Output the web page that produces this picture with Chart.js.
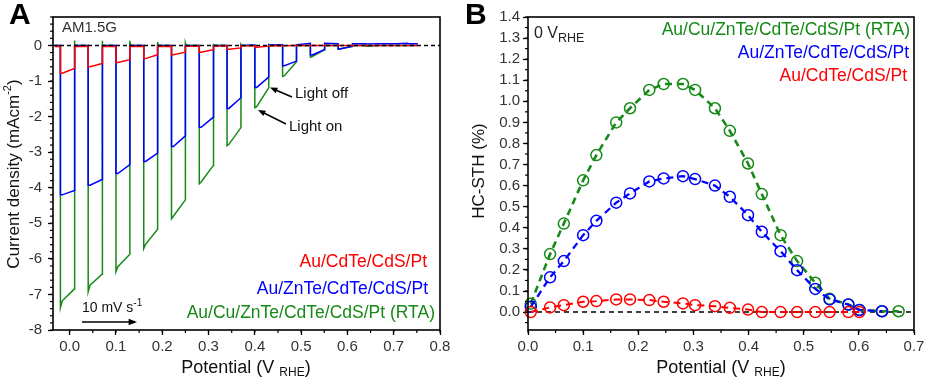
<!DOCTYPE html>
<html>
<head>
<meta charset="utf-8">
<script src="https://cdn.jsdelivr.net/npm/chart.js@4.4.1/dist/chart.umd.min.js"></script>
<style>
  body { margin: 0; background: #fff; }
  #wrap { position: relative; width: 929px; height: 388px; }
  canvas { position: absolute; top: 0; }
  #chartA { left: 0; }
  #chartB { left: 460px; }
</style>
</head>
<body>
<div id="wrap">
  <canvas id="chartA" width="465" height="388"></canvas>
  <canvas id="chartB" width="469" height="388"></canvas>
</div>
<script>
const FONT = "'Liberation Sans', Arial, Helvetica, sans-serif";
const RED = "#ff0000";
const BLUE = "#0000ff";
const GREEN = "#168a16";

// ---- panel A: chopped-light scan, 13 light pulses ----
const scanStart = -0.032;
const scanEnd = 0.752;
const chopOn = [-0.02, 0.04, 0.10, 0.16, 0.22, 0.28, 0.34, 0.40, 0.46, 0.52, 0.58, 0.64, 0.70];
const chopOff = [0.01, 0.07, 0.13, 0.19, 0.25, 0.31, 0.37, 0.43, 0.49, 0.55, 0.61, 0.67, 0.73];

const redDark = [-0.03, -0.03, -0.03, -0.03, -0.02, -0.02, -0.01, -0.01, 0, 0, 0, 0, 0];
const redOn = [-0.78, -0.6, -0.48, -0.37, -0.26, -0.19, -0.11, -0.05, -0.01, 0, 0, 0, 0];
const redEnd = [-0.65, -0.51, -0.4, -0.26, -0.19, -0.12, -0.07, -0.02, 0, 0, 0, 0, 0];

const blueDark = [0, 0, 0, 0, 0, 0, 0, 0.01, 0.02, 0.06, 0.05, 0.05, 0.05];
const blueOn = [-4.2, -3.93, -3.6, -3.26, -2.84, -2.3, -1.77, -1.18, -0.57, -0.27, -0.1, 0.04, 0.05];
const blueEnd = [-4.08, -3.77, -3.35, -3.03, -2.54, -2.02, -1.47, -0.89, -0.44, -0.12, -0.02, 0.05, 0.06];

const greenDark = [0, 0, 0, 0, 0, 0, 0, 0, 0, 0, 0, 0, 0];
const greenPeak = [-7.37, -6.92, -6.36, -5.71, -4.87, -3.89, -2.82, -1.75, -0.87, -0.33, -0.1, -0.02, 0];
const greenOn = [-7.18, -6.74, -6.22, -5.59, -4.8, -3.84, -2.78, -1.72, -0.85, -0.31, -0.09, -0.02, 0];
const greenEnd = [-6.85, -6.43, -5.87, -5.17, -4.34, -3.38, -2.31, -1.19, -0.46, -0.12, -0.03, 0, 0];
const greenOffSpike = [0.14, 0.13, 0.13, 0.1, 0.07, 0.05, 0.03, 0.02, 0.01, 0, 0, 0, 0];

// ---- panel B: HC-STH vs potential ----
const stPotential = [0.005, 0.04, 0.065, 0.1, 0.124, 0.16, 0.185, 0.22, 0.246, 0.281, 0.303, 0.339, 0.366, 0.399, 0.424, 0.458, 0.488, 0.521, 0.547, 0.581, 0.601, 0.642, 0.672];
const stGreen = [0.04, 0.275, 0.42, 0.625, 0.745, 0.9, 0.967, 1.054, 1.082, 1.082, 1.054, 0.967, 0.86, 0.705, 0.56, 0.365, 0.242, 0.139, 0.063, 0.036, 0.01, 0.004, 0.004];
const stBlue = [0.025, 0.165, 0.242, 0.365, 0.433, 0.519, 0.563, 0.62, 0.634, 0.645, 0.631, 0.6, 0.547, 0.46, 0.381, 0.289, 0.199, 0.11, 0.06, 0.036, 0.01, 0.004, null];
const stRed = [0.0, 0.022, 0.033, 0.049, 0.052, 0.06, 0.06, 0.057, 0.049, 0.041, 0.033, 0.028, 0.02, 0.012, 0.0, 0.0, 0.0, 0.0, 0.0, 0.0, 0.0, null, null];

function chopTrace(dark, peak, on, end, spike) {
  const pts = [{x: scanStart, y: dark[0]}];
  chopOn.forEach((t, k) => {
    pts.push({x: t, y: dark[k]});
    pts.push({x: t, y: peak[k]});
    pts.push({x: t + 0.004, y: on[k]});
    pts.push({x: chopOff[k], y: end[k]});
    pts.push({x: chopOff[k], y: spike[k]});
    pts.push({x: chopOff[k] + 0.0015, y: dark[k]});
  });
  pts.push({x: scanEnd, y: dark[dark.length - 1]});
  return pts;
}

function stPoints(vals) {
  return stPotential.map((x, i) => ({x: x, y: vals[i]}));
}

function drawText(c, parts, x, y, align, color, rot) {
  c.save();
  c.translate(x, y);
  if (rot) c.rotate(-Math.PI / 2);
  c.fillStyle = color;
  c.textBaseline = "middle";
  c.textAlign = "left";
  let w = 0;
  for (const p of parts) {
    c.font = (p.bold ? "bold " : "") + p.size + "px " + FONT;
    p.w = c.measureText(p.t).width;
    w += p.w;
  }
  let cx = align === "right" ? -w : align === "center" ? -w / 2 : 0;
  for (const p of parts) {
    c.font = (p.bold ? "bold " : "") + p.size + "px " + FONT;
    c.fillText(p.t, cx, p.dy || 0);
    cx += p.w;
  }
  c.restore();
}

function arrow(c, x0, y0, x1, y1, head) {
  const ang = Math.atan2(y1 - y0, x1 - x0);
  c.save();
  c.strokeStyle = "#000";
  c.fillStyle = "#000";
  c.lineWidth = 1.5;
  c.beginPath();
  c.moveTo(x0, y0);
  c.lineTo(x1 - Math.cos(ang) * head * 0.7, y1 - Math.sin(ang) * head * 0.7);
  c.stroke();
  c.beginPath();
  c.moveTo(x1, y1);
  c.lineTo(x1 - head * Math.cos(ang - 0.38), y1 - head * Math.sin(ang - 0.38));
  c.lineTo(x1 - head * Math.cos(ang + 0.38), y1 - head * Math.sin(ang + 0.38));
  c.closePath();
  c.fill();
  c.restore();
}

function frameAndMinor(chart, xStep, yStep) {
  const c = chart.ctx, a = chart.chartArea;
  c.save();
  c.strokeStyle = "#000";
  c.lineWidth = 1.2;
  const xs = chart.scales.x, ys = chart.scales.y;
  for (let n = Math.ceil(xs.min / xStep - 1e-9); n <= Math.floor(xs.max / xStep + 1e-9); n++) {
    const p = xs.getPixelForValue(n * xStep);
    c.beginPath(); c.moveTo(p, a.bottom); c.lineTo(p, a.bottom + 3); c.stroke();
  }
  for (let n = Math.ceil(ys.min / yStep - 1e-9); n <= Math.floor(ys.max / yStep + 1e-9); n++) {
    const p = ys.getPixelForValue(n * yStep);
    c.beginPath(); c.moveTo(a.left, p); c.lineTo(a.left - 3, p); c.stroke();
  }
  c.lineWidth = 1.6;
  c.strokeRect(a.left, a.top, a.right - a.left, a.bottom - a.top);
  c.restore();
}

function zeroLine(chart, dash) {
  const c = chart.ctx, a = chart.chartArea;
  const y0 = chart.scales.y.getPixelForValue(0);
  c.save();
  c.setLineDash(dash);
  c.lineWidth = 1.5;
  c.strokeStyle = "#000";
  c.beginPath(); c.moveTo(a.left, y0); c.lineTo(a.right, y0); c.stroke();
  c.restore();
}

function axis(min, max, step, pad, fmt, fit) {
  return {
    type: "linear", min: min, max: max,
    afterFit: fit,
    border: {display: false},
    grid: {drawOnChartArea: false, drawTicks: true, tickLength: 5, tickWidth: 1.3, tickColor: "#000"},
    ticks: {
      stepSize: step, includeBounds: false, autoSkip: false, maxRotation: 0,
      padding: pad, color: "#333", font: {family: FONT, size: 15}, callback: fmt
    }
  };
}
const fmt1 = v => Number(v).toFixed(1);

const panelA = {
  id: "panelA",
  afterDatasetsDraw(chart) {
    zeroLine(chart, [4, 3]);
  },
  afterDraw(chart) {
    const c = chart.ctx;
    frameAndMinor(chart, 0.05, 0.2);
    drawText(c, [{t: "A", size: 30, bold: true}], 9, 16, "left", "#000");
    drawText(c, [{t: "AM1.5G", size: 15}], 62, 27.5, "left", "#333");
    drawText(c, [{t: "Light off", size: 15}], 295, 94, "left", "#111");
    drawText(c, [{t: "Light on", size: 15}], 289, 126.5, "left", "#111");
    arrow(c, 292, 97, 270, 87.5, 8);
    arrow(c, 286, 124, 258, 110, 8);
    drawText(c, [{t: "10 mV s", size: 14}, {t: "-1", size: 10, dy: -5}], 82, 308, "left", "#111");
    arrow(c, 82, 322, 137, 322, 9);
    drawText(c, [{t: "Au/CdTe/CdS/Pt", size: 17.5}], 427, 262, "right", RED);
    drawText(c, [{t: "Au/ZnTe/CdTe/CdS/Pt", size: 17.5}], 428, 289, "right", BLUE);
    drawText(c, [{t: "Au/Cu/ZnTe/CdTe/CdS/Pt (RTA)", size: 17.5}], 435, 313.5, "right", GREEN);
    drawText(c, [{t: "Current density (mAcm", size: 17}, {t: "-2", size: 11, dy: -6}, {t: ")", size: 17}], 14, 174, "center", "#111", true);
    drawText(c, [{t: "Potential (V ", size: 18}, {t: "RHE", size: 12, dy: 5}, {t: ")", size: 18}], 246, 368, "center", "#111");
  }
};

const panelB = {
  id: "panelB",
  beforeDatasetsDraw(chart) {
    zeroLine(chart, [5, 4]);
  },
  afterDraw(chart) {
    const c = chart.ctx;
    frameAndMinor(chart, 0.05, 0.05);
    drawText(c, [{t: "B", size: 30, bold: true}], 5, 16, "left", "#000");
    drawText(c, [{t: "0 V", size: 16}, {t: "RHE", size: 12.5, dy: 5}], 74, 34, "left", "#222");
    drawText(c, [{t: "Au/Cu/ZnTe/CdTe/CdS/Pt (RTA)", size: 17.5}], 450, 30, "right", GREEN);
    drawText(c, [{t: "Au/ZnTe/CdTe/CdS/Pt", size: 17.5}], 449, 53, "right", BLUE);
    drawText(c, [{t: "Au/CdTe/CdS/Pt", size: 17.5}], 447, 76, "right", RED);
    drawText(c, [{t: "HC-STH (%)", size: 17}], 19, 171, "center", "#111", true);
    drawText(c, [{t: "Potential (V ", size: 18}, {t: "RHE", size: 12, dy: 5}, {t: ")", size: 18}], 261, 368, "center", "#111");
  }
};

const traceStyle = color => ({showLine: true, borderColor: color, borderWidth: 1.5, pointRadius: 0, tension: 0});

new Chart(document.getElementById("chartA"), {
  type: "scatter",
  data: {
    datasets: [
      Object.assign({data: chopTrace(redDark, redOn, redOn, redEnd, redDark)}, traceStyle(RED)),
      Object.assign({data: chopTrace(blueDark, blueOn, blueOn, blueEnd, blueDark)}, traceStyle(BLUE)),
      Object.assign({data: chopTrace(greenDark, greenPeak, greenOn, greenEnd, greenOffSpike)}, traceStyle(GREEN))
    ]
  },
  options: {
    responsive: false,
    animation: false,
    events: [],
    layout: {padding: {top: 17, right: 25, bottom: 0, left: 0}},
    plugins: {legend: {display: false}, tooltip: {enabled: false}},
    scales: {
      x: axis(-0.036, 0.8, 0.1, 3, fmt1, s => { s.height = 58; }),
      y: axis(-8, 0.8, 1, 6, v => String(v), s => { s.width = 53; })
    }
  },
  plugins: [panelA]
});

const stStyle = (color, width) => ({
  showLine: true, spanGaps: true, clip: false,
  borderColor: color, borderWidth: width, borderDash: [7, 5],
  pointRadius: 5.5, pointBorderWidth: 1.5, pointBorderColor: color,
  pointBackgroundColor: "rgba(0,0,0,0)"
});

new Chart(document.getElementById("chartB"), {
  type: "scatter",
  data: {
    datasets: [
      Object.assign({data: stPoints(stRed)}, stStyle(RED, 2)),
      Object.assign({data: stPoints(stBlue)}, stStyle(BLUE, 2.3)),
      Object.assign({data: stPoints(stGreen)}, stStyle(GREEN, 2.6))
    ]
  },
  options: {
    responsive: false,
    animation: false,
    events: [],
    layout: {padding: {top: 17, right: 15, bottom: 0, left: 0}},
    plugins: {legend: {display: false}, tooltip: {enabled: false}},
    scales: {
      x: axis(0, 0.7, 0.1, 3, fmt1, s => { s.height = 58; }),
      y: axis(-0.085, 1.4, 0.1, 3, fmt1, s => { s.width = 68; })
    }
  },
  plugins: [panelB]
});
</script>
</body>
</html>
